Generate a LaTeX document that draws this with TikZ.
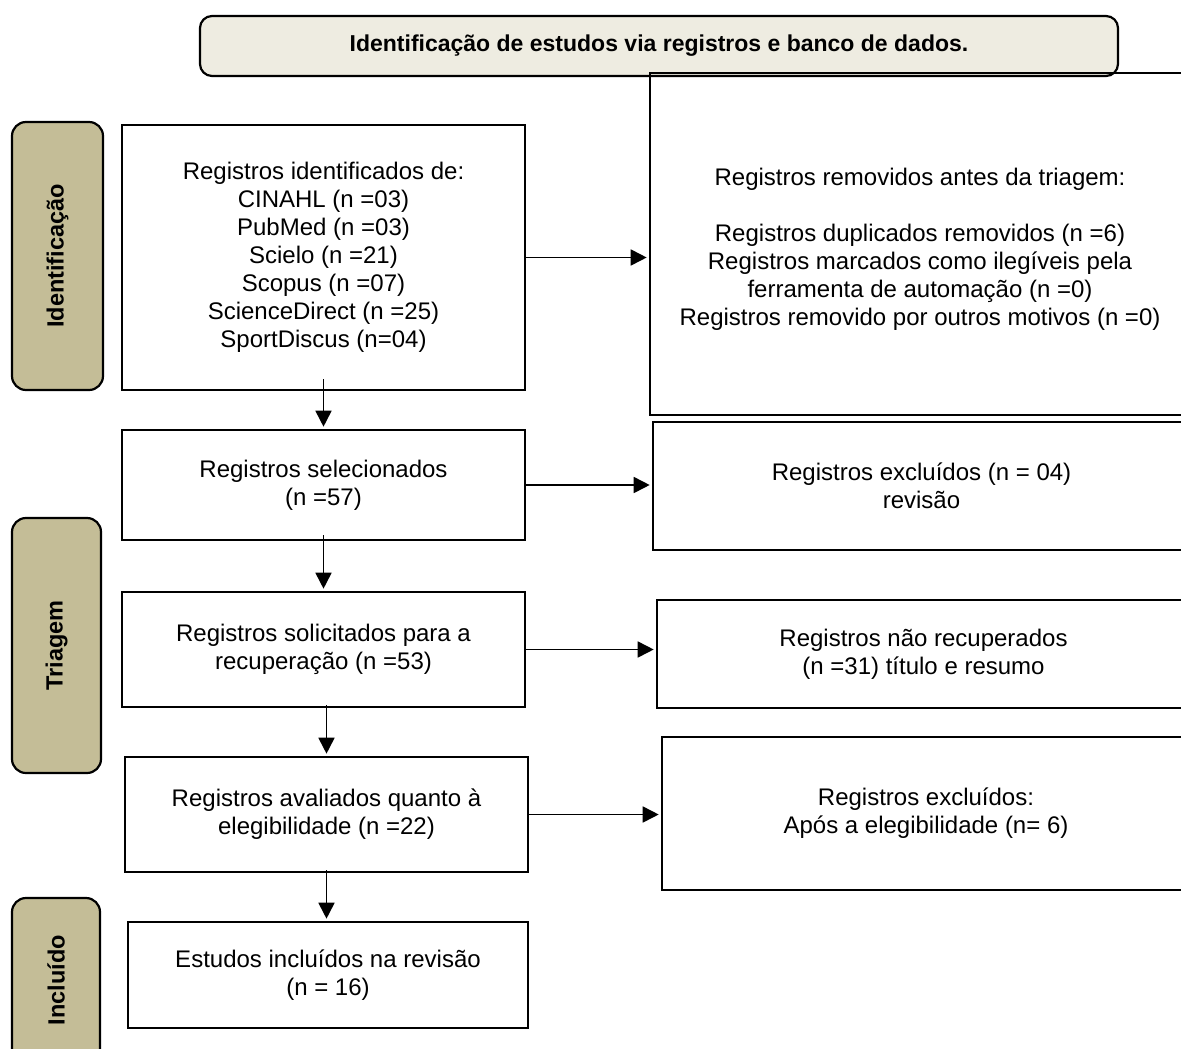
\documentclass[tikz,border=0pt]{standalone}
\usepackage{fontspec}
\setmainfont{Liberation Sans}
\usetikzlibrary{arrows.meta}
\definecolor{tanlight}{HTML}{EEECE1}
\definecolor{tandark}{HTML}{C4BD97}
\begin{document}
\begin{tikzpicture}[x=1pt, y=-1pt,
  box/.style={draw, line width=2.6pt, align=center, inner sep=0pt, font=\fontsize{24}{28}\selectfont},
  phase/.style={draw, line width=2.2pt, fill=tandark, rounded corners=14pt, rotate=90, inner sep=0pt, font=\fontsize{23.5}{26}\selectfont\bfseries},
  arr/.style={line width=1.7pt, -{Triangle[length=16pt,width=16pt]}, shorten >=2pt}]
  \useasboundingbox (0,0) rectangle (1181,1049);
  % header
  \node[draw, line width=2.2pt, fill=tanlight, rounded corners=12pt, minimum width=918pt, minimum height=60pt,
    font=\fontsize{23}{26}\selectfont\bfseries] (head) at (659,46) {Identificação de estudos via registros e banco de dados.};
  % phases
  \node[phase, minimum width=268pt, minimum height=91pt] (ident) at (57.5,256) {Identificação};
  \node[phase, minimum width=255pt, minimum height=89pt] (triag) at (56.5,645.5) {Triagem};
  \node[phase, minimum width=164pt, minimum height=88pt] (incl) at (56,980) {Incluído};
  % main column
  \node[box, minimum width=403pt, minimum height=265pt] (regid) at (323.5,257.5)
    {Registros identificados de:\\CINAHL (n =03)\\PubMed (n =03)\\Scielo (n =21)\\Scopus (n =07)\\ScienceDirect (n =25)\\SportDiscus (n=04)};
  \node[box, minimum width=403pt, minimum height=110pt] (regsel) at (323.5,485)
    {Registros selecionados\\(n =57)};
  \node[box, minimum width=403pt, minimum height=115pt] (regsol) at (323.5,649.5)
    {Registros solicitados para a\\recuperação (n =53)};
  \node[box, minimum width=403pt, minimum height=115pt] (regaval) at (326.5,814.5)
    {Registros avaliados quanto à\\elegibilidade (n =22)};
  \node[box, minimum width=400pt, minimum height=106pt] (incluidos) at (328,975)
    {Estudos incluídos na revisão\\(n = 16)};
  % right column
  \node[box, minimum width=540pt, minimum height=342pt] (removidos) at (920,244)
    {\mbox{}\\Registros removidos antes da triagem:\\[28pt]Registros duplicados removidos (n =6)\\Registros marcados como ilegíveis pela\\ferramenta de automação (n =0)\\Registros removido por outros motivos (n =0)};
  \node[box, minimum width=537pt, minimum height=128pt] (excl) at (921.5,486)
    {Registros excluídos (n = 04)\\revisão};
  \node[box, minimum width=533pt, minimum height=108pt] (naorec) at (923.5,654)
    {Registros não recuperados\\(n =31) título e resumo};
  \node[box, minimum width=528pt, minimum height=153pt] (exclel) at (926,813.5)
    {Registros excluídos:\\Após a elegibilidade (n= 6)};
  % arrows
  \draw[arr] (regid.east) -- (regid.east -| removidos.west);
  \draw[arr] (regsel.east) -- (regsel.east -| excl.west);
  \draw[arr] (regsol.east) -- (regsol.east -| naorec.west);
  \draw[arr] (regaval.east) -- (regaval.east -| exclel.west);
  \draw[arr] ([yshift=12pt]regid.south) -- (regsel.north);
  \draw[arr] ([yshift=6pt]regsel.south) -- (regsol.north);
  \draw[arr] ([xshift=3pt,yshift=3pt]regsol.south) -- ([xshift=3pt]regsol.south |- regaval.north);
  \draw[arr] ([yshift=3pt]regaval.south) -- (regaval.south |- incluidos.north);
\end{tikzpicture}
\end{document}
